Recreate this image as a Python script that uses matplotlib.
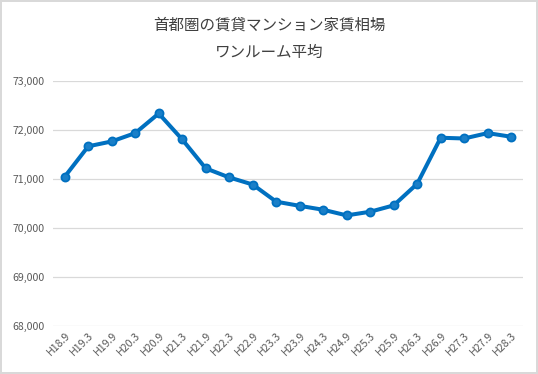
import matplotlib as mpl
mpl.use('Agg')
import matplotlib.pyplot as plt
import matplotlib.ticker as ticker

plt.rcParams['font.family'] = ['Noto Sans CJK JP', 'DejaVu Sans']

PERIODS = ["H18.9", "H19.3", "H19.9", "H20.3", "H20.9", "H21.3", "H21.9",
           "H22.3", "H22.9", "H23.3", "H23.9", "H24.3", "H24.9", "H25.3",
           "H25.9", "H26.3", "H26.9", "H27.3", "H27.9", "H28.3"]
RENT = [71050, 71670, 71770, 71940, 72340, 71810, 71220,
        71035, 70890, 70540, 70455, 70375, 70260, 70335,
        70465, 70905, 71845, 71830, 71940, 71865]

TITLE = "首都圏の賃貸マンション家賃相場\nワンルーム平均"
Y_TICKS = [68000, 69000, 70000, 71000, 72000, 73000]

LINE_COLOR = '#0070C0'
TEXT_COLOR = '#595959'
GRID_COLOR = '#D9D9D9'

fig = plt.figure(figsize=(5.38, 3.74), dpi=100)
fig.patch.set_edgecolor(GRID_COLOR)
fig.patch.set_linewidth(1.5)
ax = fig.add_axes([0.0985, 0.128, 0.8735, 0.655])

x = list(range(len(PERIODS)))
ax.plot(x, RENT, color=LINE_COLOR, linewidth=2.9, marker='o',
        markersize=5.8, markerfacecolor='#1a7fc8', markeredgecolor=LINE_COLOR,
        markeredgewidth=1.3, zorder=3)

ax.set_xlim(-0.5, len(PERIODS) - 0.5)
ax.set_ylim(68000, 73000)
ax.set_yticks(Y_TICKS)
ax.yaxis.set_major_formatter(ticker.FuncFormatter(lambda v, p: '{:,}'.format(int(v))))
ax.set_xticks(x)
ax.set_xticklabels(PERIODS, rotation=45, ha='right', rotation_mode='anchor')

ax.grid(axis='y', color=GRID_COLOR, linewidth=0.9)
ax.set_axisbelow(True)
for s in ax.spines.values():
    s.set_visible(False)
ax.tick_params(axis='both', length=0, labelsize=7.6, labelcolor=TEXT_COLOR)
ax.tick_params(axis='y', pad=6)
ax.tick_params(axis='x', pad=3)

fig.text(0.5, 0.955, TITLE, ha='center', va='top', fontsize=11.2,
         color='#404040', linespacing=1.75)

fig.savefig('out.png', dpi=100)
